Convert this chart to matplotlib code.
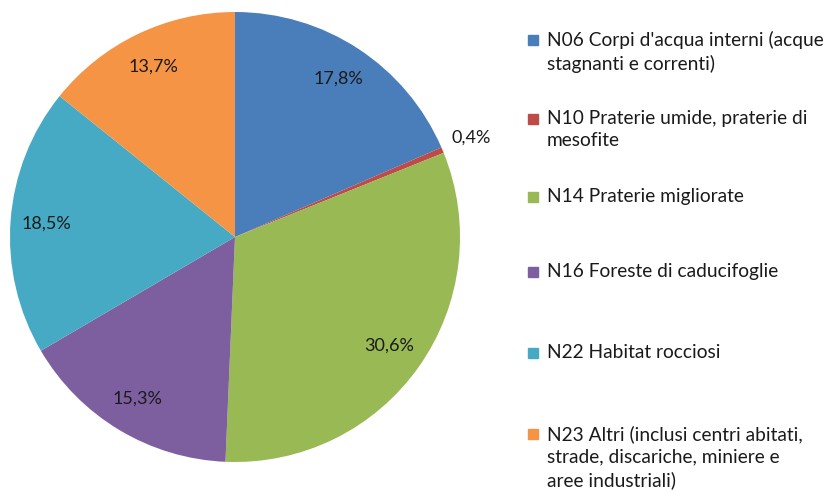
import matplotlib
matplotlib.use("Agg")
import matplotlib.pyplot as plt
import numpy as np

plt.rcParams["font.family"] = ["Lato", "DejaVu Sans"]

# Share of habitat classes, % (as printed on the chart)
LABELS = [
    "N06 Corpi d'acqua interni (acque\nstagnanti e correnti)",
    "N10 Praterie umide, praterie di\nmesofite",
    "N14 Praterie migliorate",
    "N16 Foreste di caducifoglie",
    "N22 Habitat rocciosi",
    "N23 Altri (inclusi centri abitati,\nstrade, discariche, miniere e\naree industriali)",
]
VALUES = [17.8, 0.4, 30.6, 15.3, 18.5, 13.7]
VALUE_TEXT = ["17,8%", "0,4%", "30,6%", "15,3%", "18,5%", "13,7%"]
COLORS = ["#4A7EBB", "#BE4B48", "#98B954", "#7D5FA0", "#46AAC5", "#F69446"]

W, H = 830, 493
fig = plt.figure(figsize=(W / 100, H / 100), dpi=100)

# pie occupies a 450x450 px box, centred at (235, 237) px
cx, cy, r = 235, 237, 225
ax = fig.add_axes([(cx - r) / W, (H - cy - r) / H, 2 * r / W, 2 * r / H])
wedges, _ = ax.pie(VALUES, colors=COLORS, startangle=90, counterclock=False,
                   radius=1.0, wedgeprops=dict(linewidth=0))
ax.set_xlim(-1, 1)
ax.set_ylim(-1, 1)
ax.set_aspect("equal")
ax.axis("off")

for w, txt, v in zip(wedges, VALUE_TEXT, VALUES):
    mid = np.deg2rad((w.theta1 + w.theta2) / 2)
    d = 1.14 if v < 2 else 0.84
    ax.text(d * np.cos(mid), d * np.sin(mid), txt, ha="center", va="center",
            fontsize=13, color="#1a1a1a")

# legend drawn as squares + text, first-line centre y in px
legend_y = [40, 119, 197, 272, 353, 434]
for lab, col, y in zip(LABELS, COLORS, legend_y):
    fig.patches.append(plt.Rectangle((528 / W, (H - y - 5) / H), 10 / W, 10 / H,
                                     transform=fig.transFigure, color=col))
    fig.text(547 / W, (H - y + 9) / H, lab, ha="left", va="top", fontsize=13.8,
             color="#1a1a1a", linespacing=1.39)

fig.savefig("out.png", dpi=100)
